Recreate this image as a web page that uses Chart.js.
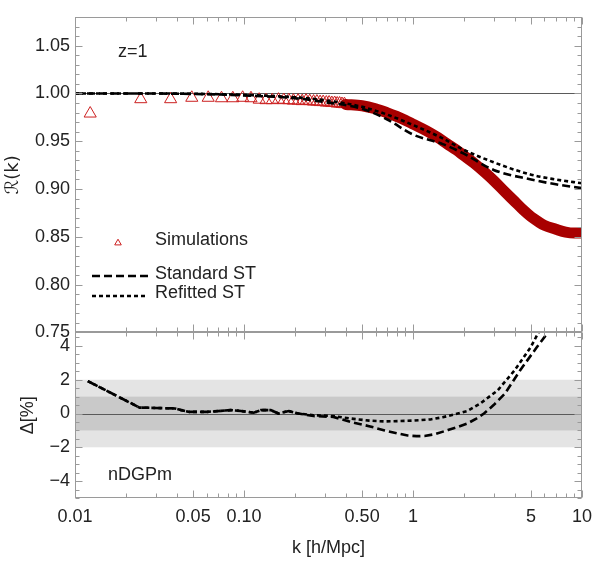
<!DOCTYPE html>
<html>
<head>
<meta charset="utf-8">
<script src="https://cdn.jsdelivr.net/npm/chart.js@4.4.1/dist/chart.umd.min.js"></script>
<style>
    html, body { margin: 0; padding: 0; background: #fff; }
    #wrap { position: relative; width: 600px; height: 563px; }
</style>
</head>
<body>
<div id="wrap"><canvas id="ratioChart" width="600" height="563"></canvas></div>
<script>
/* ── DATA ─────────────────────────────────────────────── */
// simulation points, low k (individual triangles)
const kSimLow = [0.0123, 0.0245, 0.0368, 0.0491, 0.0614, 0.0736, 0.0859, 0.0982, 0.110, 0.123,
                 0.135, 0.147, 0.160, 0.172, 0.184, 0.196, 0.209, 0.221, 0.233, 0.245,
                 0.258, 0.270, 0.282, 0.294, 0.307, 0.319, 0.331, 0.344, 0.356, 0.368, 0.380, 0.393];
const rSimLow = [0.979, 0.994, 0.994, 0.9955, 0.9955, 0.995, 0.995, 0.9955, 0.995, 0.9935,
                 0.993, 0.993, 0.9935, 0.993, 0.993, 0.9925, 0.9925, 0.992, 0.9925, 0.992,
                 0.9915, 0.9915, 0.991, 0.991, 0.9905, 0.9905, 0.990, 0.990, 0.9895, 0.9895, 0.989, 0.9888];
// simulation points, high k (dense band)
const kSimHigh = [0.40, 0.50, 0.60, 0.70, 0.80, 0.90, 1.00, 1.20, 1.40, 1.60, 1.80, 2.00, 2.30, 2.60,
                  3.00, 3.50, 4.00, 4.50, 5.00, 5.50, 6.00, 7.00, 8.00, 9.00, 10.0];
const rSimHigh = [0.9885, 0.9872, 0.984, 0.980, 0.976, 0.972, 0.968, 0.961, 0.954, 0.947, 0.941, 0.935, 0.927, 0.919,
                  0.909, 0.897, 0.887, 0.878, 0.871, 0.866, 0.862, 0.858, 0.855, 0.854, 0.854];

// halo-model ratio predictions
const kTheory   = [0.01, 0.02, 0.05, 0.1, 0.2, 0.3, 0.5, 0.7, 1.0, 1.5, 2.0, 3.0, 5.0, 7.0, 10.0];
const rStandard = [1.000, 1.000, 0.9995, 0.998, 0.995, 0.991, 0.984, 0.973, 0.957, 0.947, 0.937, 0.920, 0.910, 0.905, 0.901];
const rRefitted = [1.000, 1.000, 0.9997, 0.9985, 0.996, 0.993, 0.986, 0.978, 0.967, 0.953, 0.941, 0.928, 0.915, 0.910, 0.906];

// relative difference [%]
const kDeltaStd = [0.0119, 0.0241, 0.0300, 0.0390, 0.0426, 0.0474, 0.0606, 0.0836, 0.096, 0.114, 0.126, 0.144,
                   0.160, 0.184, 0.210, 0.258, 0.338, 0.43, 0.55, 0.68, 0.81, 0.93, 1.05, 1.17, 1.35, 1.61,
                   1.84, 2.1, 2.37, 2.63, 3.0, 3.5, 4.3, 5.4, 6.4, 7.0];
const dStandard = [1.92, 0.35, 0.33, 0.30, 0.2, 0.1, 0.1, 0.2, 0.15, 0.05, 0.2, 0.2,
                   0.0, 0.15, 0.0, -0.15, -0.2, -0.5, -0.75, -1.0, -1.18, -1.3, -1.34, -1.33, -1.22, -0.98,
                   -0.8, -0.59, -0.3, 0.0, 0.5, 1.18, 2.55, 3.92, 4.9, 5.5];
const kDeltaRef = [0.0119, 0.0241, 0.0300, 0.0390, 0.0426, 0.0474, 0.0606, 0.0836, 0.096, 0.114, 0.126, 0.144,
                   0.160, 0.184, 0.210, 0.258, 0.338, 0.43, 0.55, 0.68, 0.81, 1.0, 1.27, 1.5, 1.84, 2.1,
                   2.5, 3.17, 3.99, 4.97, 5.6, 6.0];
const dRefitted = [1.92, 0.35, 0.33, 0.30, 0.2, 0.1, 0.1, 0.2, 0.15, 0.05, 0.2, 0.2,
                   0.0, 0.15, 0.0, -0.1, -0.15, -0.3, -0.42, -0.47, -0.45, -0.42, -0.35, -0.22, 0.0, 0.15,
                   0.59, 1.37, 2.55, 3.92, 4.9, 5.5];

// axes
const xTicks      = [0.01, 0.05, 0.1, 0.5, 1, 5, 10];
const xTickLabels = ['0.01', '0.05', '0.10', '0.50', '1', '5', '10'];
const xMinor      = [0.02, 0.03, 0.04, 0.06, 0.07, 0.08, 0.09, 0.2, 0.3, 0.4, 0.6, 0.7, 0.8, 0.9,
                     2, 3, 4, 6, 7, 8, 9];
const yTicksTop   = [0.75, 0.80, 0.85, 0.90, 0.95, 1.00, 1.05];
const yTicksBot   = [-4, -2, 0, 2, 4];
const bandOuter   = [-2, 2];
const bandInner   = [-1, 1];
const legendLabels = ['Simulations', 'Standard ST', 'Refitted ST'];

/* ── THEME ────────────────────────────────────────────── */
const C = {
    text:   '#222',
    frame:  '#9a9a9a',
    zero:   '#5a5a5a',
    simLow: '#cc2020',
    simBand:'#a80000',
    black:  '#000',
    light:  '#e4e4e4',
    dark:   '#c9c9c9',
    family: '"Liberation Sans", Arial, sans-serif',
};
const font = { family: C.family, size: 18 };

function el(id) { return document.getElementById(id); }
const pts = (xs, ys) => xs.map((x, i) => ({ x, y: ys[i] }));

/* ── FRAME / BANDS / TEXT PLUGIN ──────────────────────── */
const framePlugin = {
    id: 'frame',
    beforeDatasetsDraw(chart) {
        const { ctx } = chart;
        const x = chart.scales.x, yT = chart.scales.y, yB = chart.scales.d;
        ctx.save();
        const band = (r, col) => {
            const a = yB.getPixelForValue(r[1]), b = yB.getPixelForValue(r[0]);
            ctx.fillStyle = col;
            ctx.fillRect(x.left, a, x.right - x.left, b - a);
        };
        band(bandOuter, C.light);
        band(bandInner, C.dark);
        ctx.strokeStyle = C.zero;
        ctx.lineWidth = 1;
        [[yT, 1], [yB, 0]].forEach(([s, v]) => {
            const py = Math.round(s.getPixelForValue(v)) + 0.5;
            ctx.beginPath(); ctx.moveTo(x.left, py); ctx.lineTo(x.right, py); ctx.stroke();
        });
        ctx.restore();
    },
    afterDatasetsDraw(chart) {
        const { ctx } = chart;
        const x = chart.scales.x, yT = chart.scales.y, yB = chart.scales.d;
        ctx.save();
        ctx.strokeStyle = C.frame;
        ctx.lineWidth = 1;
        const L = Math.round(x.left) + 0.5, R = Math.round(x.right) - 0.5;

        [yT, yB].forEach(s => {
            const T = Math.round(s.top) + 0.5, B = Math.round(s.bottom) - 0.5;
            ctx.strokeRect(L, T, R - L, B - T);
            ctx.beginPath();
            // x ticks on top and bottom edges
            const xt = (v, len) => {
                const px = Math.round(x.getPixelForValue(v)) + 0.5;
                ctx.moveTo(px, T); ctx.lineTo(px, T + len);
                ctx.moveTo(px, B); ctx.lineTo(px, B - len);
            };
            xTicks.forEach(v => xt(v, 7));
            xMinor.forEach(v => xt(v, 4));
            // y ticks on left and right edges
            const yt = (v, len) => {
                const py = Math.round(s.getPixelForValue(v)) + 0.5;
                ctx.moveTo(L, py); ctx.lineTo(L + len, py);
                ctx.moveTo(R, py); ctx.lineTo(R - len, py);
            };
            if (s === yT) {
                yTicksTop.forEach(v => yt(v, 7));
                for (let v = 0.76; v < 1.08; v += 0.01) yt(v, 4);
            } else {
                yTicksBot.forEach(v => yt(v, 7));
                for (let v = -4.5; v < 4.8; v += 1) yt(v, 4);
                [-5, -3, -1, 1, 3].forEach(v => yt(v, 4));
            }
            ctx.stroke();
        });

        // annotations
        ctx.fillStyle = C.text;
        ctx.font = `18px ${C.family}`;
        ctx.textBaseline = 'middle';
        ctx.textAlign = 'left';
        ctx.fillText('z=1', 118, 52);
        ctx.fillText('nDGPm', 108, 475);

        // legend
        ctx.fillText(legendLabels[0], 155, 240);
        ctx.fillText(legendLabels[1], 155, 274);
        ctx.fillText(legendLabels[2], 155, 293);
        ctx.strokeStyle = C.simLow;
        ctx.lineWidth = 1;
        const tr = 3.8, tx = 118, ty = 243;
        ctx.beginPath();
        ctx.moveTo(tx, ty - tr);
        ctx.lineTo(tx + tr * 0.866, ty + tr * 0.5);
        ctx.lineTo(tx - tr * 0.866, ty + tr * 0.5);
        ctx.closePath();
        ctx.stroke();
        ctx.strokeStyle = C.black;
        ctx.lineWidth = 2.6;
        ctx.setLineDash([8, 4]);
        ctx.beginPath(); ctx.moveTo(92, 276); ctx.lineTo(148, 276); ctx.stroke();
        ctx.setLineDash([4, 3]);
        ctx.beginPath(); ctx.moveTo(92, 296); ctx.lineTo(148, 296); ctx.stroke();
        ctx.restore();
    }
};

/* ── CHART ────────────────────────────────────────────── */
new Chart(el('ratioChart'), {
    type: 'line',
    data: {
        datasets: [
            {
                label: 'Standard ST', data: pts(kTheory, rStandard), yAxisID: 'y', order: 1,
                borderColor: C.black, borderWidth: 2.6, borderDash: [8, 4], pointRadius: 0,
                cubicInterpolationMode: 'monotone',
            },
            {
                label: 'Refitted ST', data: pts(kTheory, rRefitted), yAxisID: 'y', order: 1,
                borderColor: C.black, borderWidth: 2.6, borderDash: [4, 3], pointRadius: 0,
                cubicInterpolationMode: 'monotone',
            },
            {
                label: 'Simulations', data: pts(kSimLow, rSimLow), yAxisID: 'y', order: 3,
                showLine: false, pointStyle: 'triangle', pointRadius: 7,
                pointBorderColor: C.simLow, pointBackgroundColor: 'rgba(0,0,0,0)', pointBorderWidth: 1,
            },
            {
                label: 'Simulations band', data: pts(kSimHigh, rSimHigh), yAxisID: 'y', order: 2,
                borderColor: C.simBand, borderWidth: 11, cubicInterpolationMode: 'monotone',
                borderCapStyle: 'round', pointRadius: 0, clip: 0,
            },
            {
                label: 'Δ Standard', data: pts(kDeltaStd, dStandard), yAxisID: 'd', order: 1,
                borderColor: C.black, borderWidth: 2.6, borderDash: [8, 4], pointRadius: 0,
                tension: 0, clip: 0,
            },
            {
                label: 'Δ Refitted', data: pts(kDeltaRef, dRefitted), yAxisID: 'd', order: 1,
                borderColor: C.black, borderWidth: 2.6, borderDash: [4, 3], pointRadius: 0,
                tension: 0, clip: 0,
            },
        ]
    },
    options: {
        responsive: false,
        animation: false,
        layout: { padding: { top: 17, right: 15, left: 0, bottom: 0 } },
        plugins: { legend: { display: false }, tooltip: { enabled: false } },
        scales: {
            x: {
                type: 'logarithmic', position: 'bottom', min: 0.01, max: 10,
                grid: { display: false, drawTicks: false }, border: { display: false },
                afterBuildTicks: s => { s.ticks = xTicks.map(v => ({ value: v })); },
                afterFit: s => { s.height = 65; },
                ticks: {
                    font, color: C.text, padding: 8, autoSkip: false, maxRotation: 0,
                    callback: (v, i) => xTickLabels[i],
                },
                title: { display: true, text: 'k [h/Mpc]', font, color: C.text, padding: { top: 0, bottom: 4 } },
            },
            y: {
                type: 'linear', position: 'left', stack: 'panels', stackWeight: 1.905, weight: 2,
                min: 0.75, max: 1.08,
                grid: { display: false, drawTicks: false }, border: { display: false },
                afterBuildTicks: s => { s.ticks = yTicksTop.map(v => ({ value: v })); },
                afterFit: s => { s.width = 75; },
                ticks: { font, color: C.text, padding: 5, autoSkip: false, callback: v => v.toFixed(2) },
                title: { display: true, text: 'ℛ(k)', font: { family: '"DejaVu Sans", sans-serif', size: 18 }, color: C.text, padding: { top: 3, bottom: 0 } },
            },
            d: {
                type: 'linear', position: 'left', stack: 'panels', stackWeight: 1, weight: 1,
                min: -5, max: 4.8,
                grid: { display: false, drawTicks: false }, border: { display: false },
                afterBuildTicks: s => { s.ticks = yTicksBot.map(v => ({ value: v })); },
                afterFit: s => { s.width = 75; },
                ticks: {
                    font, color: C.text, padding: 5, autoSkip: false,
                    callback: v => (v < 0 ? '\u2212' + Math.abs(v) : String(v)),
                },
                title: { display: true, text: 'Δ[%]', font, color: C.text, padding: { top: 17, bottom: 0 } },
            },
        }
    },
    plugins: [framePlugin]
});
</script>
</body>
</html>
